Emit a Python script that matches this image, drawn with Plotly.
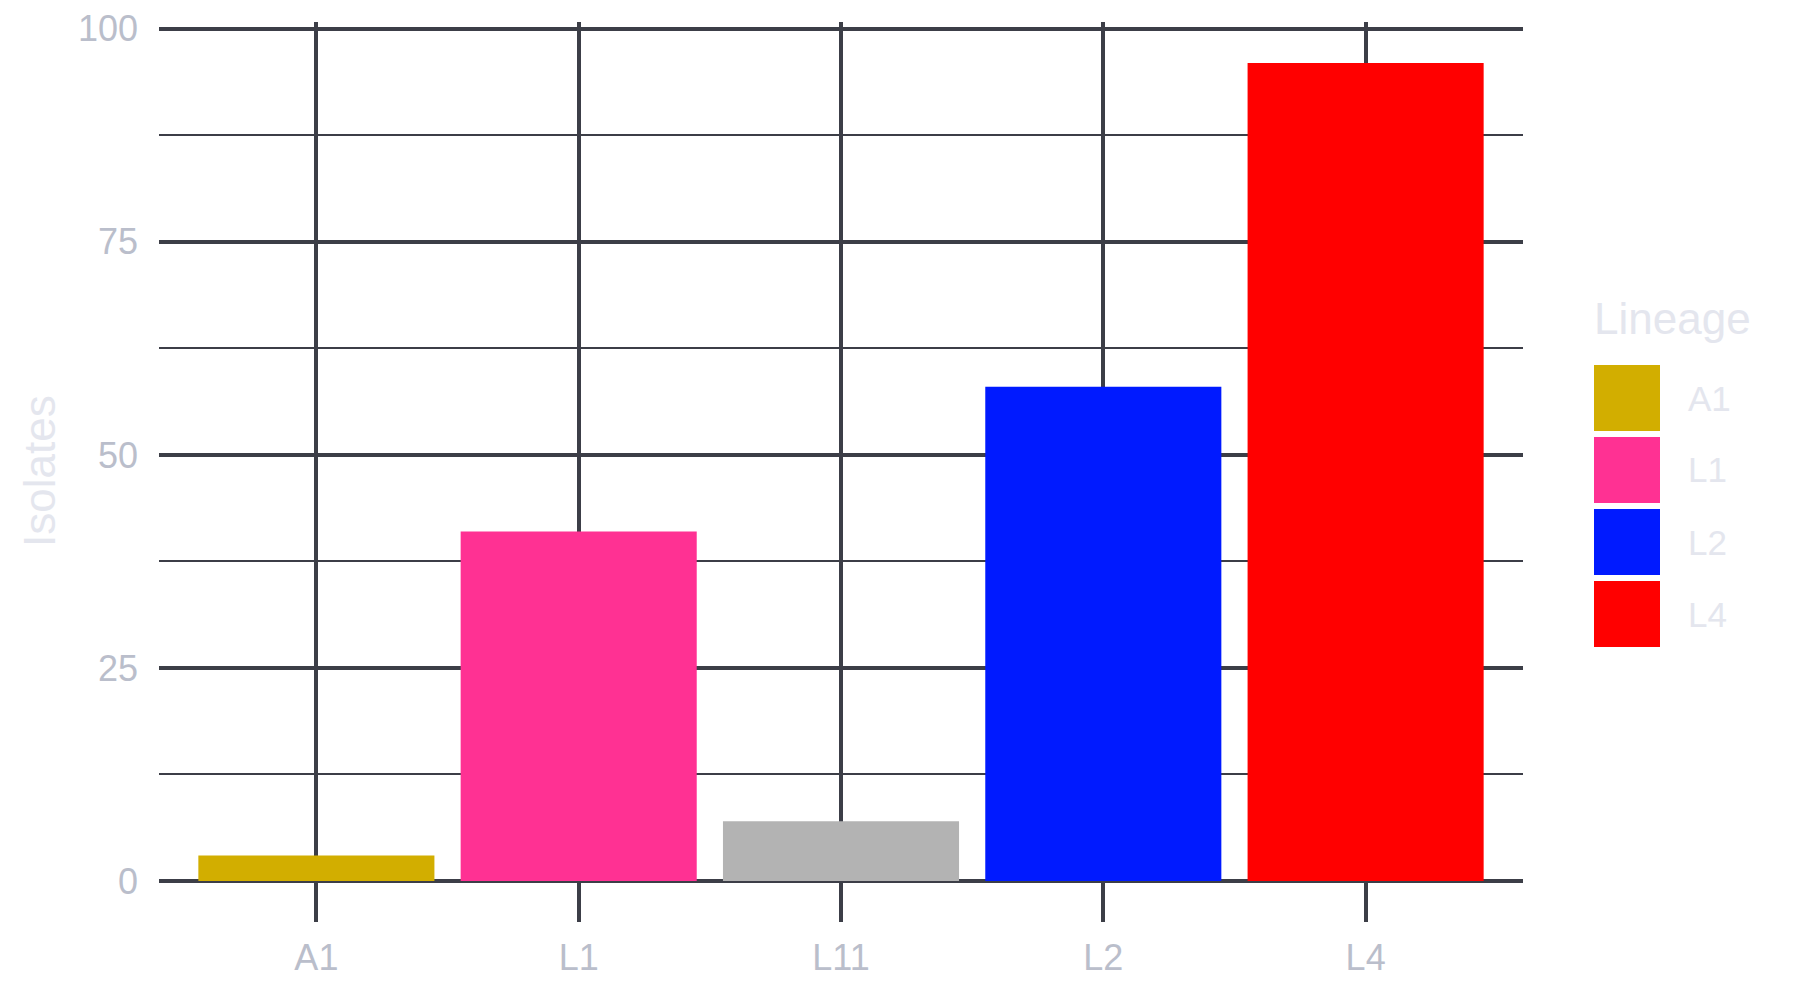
import plotly.graph_objects as go

# ───────────── DATOS ─────────────
lineages = ["A1", "L1", "L11", "L2", "L4"]
isolates = [3, 41, 7, 58, 96]
colors   = ["#D2AE00", "#FF3193", "#B3B3B3", "#001AFF", "#FF0000"]
legend_items = ["A1", "L1", "L2", "L4"]   # L11 no sale en la leyenda

GRID = "#3c3e47"
TICK_TXT = "#babecb"
PALE_TXT = "#e4e6ee"
FONT = "Liberation Sans, Arial, sans-serif"

# ───────────── GEOMETRÍA (px) ─────────────
# la página añade 8 px de margen al cuerpo: se compensa aquí
OFF = 8
W, H = 1800, 1000
L, T = 159 - OFF, 22 - OFF
R, B = W - (1523 - OFF), H - (881 - OFF)
pw, ph = W - L - R, H - T - B

def px_x(x):  # px de la referencia → paper
    return (x - OFF - L) / pw

def px_y(y):
    return (H - B - (y - OFF)) / ph

fig = go.Figure(go.Bar(
    x=lineages,
    y=isolates,
    marker=dict(color=colors, line_width=0),
    width=0.9,
    showlegend=False,
))

# leyenda dibujada a mano (cuadros grandes tipo ggplot)
shapes, annots = [], []
col_map = dict(zip(lineages, colors))
for i, name in enumerate(legend_items):
    top = 365 + i * 72
    shapes.append(dict(type="rect", xref="paper", yref="paper",
                       x0=px_x(1594), x1=px_x(1660), y0=px_y(top + 66), y1=px_y(top),
                       fillcolor=col_map[name], line_width=0))
    annots.append(dict(text=name, xref="paper", yref="paper", x=px_x(1686), y=px_y(top + 33),
                       xanchor="left", yanchor="middle", showarrow=False,
                       font=dict(size=35, color=PALE_TXT, family=FONT)))
annots.append(dict(text="Lineage", xref="paper", yref="paper", x=px_x(1592), y=px_y(318),
                   xanchor="left", yanchor="middle", showarrow=False,
                   font=dict(size=44, color=PALE_TXT, family=FONT)))
annots.append(dict(text="Isolates", xref="paper", yref="paper", x=px_x(40), y=px_y(471),
                   xanchor="center", yanchor="middle", textangle=-90, showarrow=False,
                   font=dict(size=44, color=PALE_TXT, family=FONT)))

fig.update_layout(
    width=W, height=H,
    margin=dict(l=L, r=R, t=T, b=B, autoexpand=False),
    plot_bgcolor="white", paper_bgcolor="white",
    font=dict(family=FONT),
    bargap=0.1,
    shapes=shapes, annotations=annots,
    xaxis=dict(range=[-0.6, 4.6], showgrid=True, gridcolor=GRID, gridwidth=3.8,
               ticks="outside", ticklen=40, tickwidth=3.8, tickcolor=GRID,
               showline=False, zeroline=False, ticklabelstandoff=5, automargin=False,
               tickfont=dict(size=36, color=TICK_TXT)),
    yaxis=dict(range=[0, 100.8], tickvals=[0, 25, 50, 75, 100],
               showgrid=True, gridcolor=GRID, gridwidth=3.5,
               minor=dict(tickvals=[12.5, 37.5, 62.5, 87.5], showgrid=True,
                          gridcolor=GRID, gridwidth=1.8),
               zeroline=True, zerolinecolor=GRID, zerolinewidth=3.5,
               ticks="", showline=False, ticklabelstandoff=20, automargin=False,
               tickfont=dict(size=36, color=TICK_TXT)),
)

fig.write_html("out.html")
